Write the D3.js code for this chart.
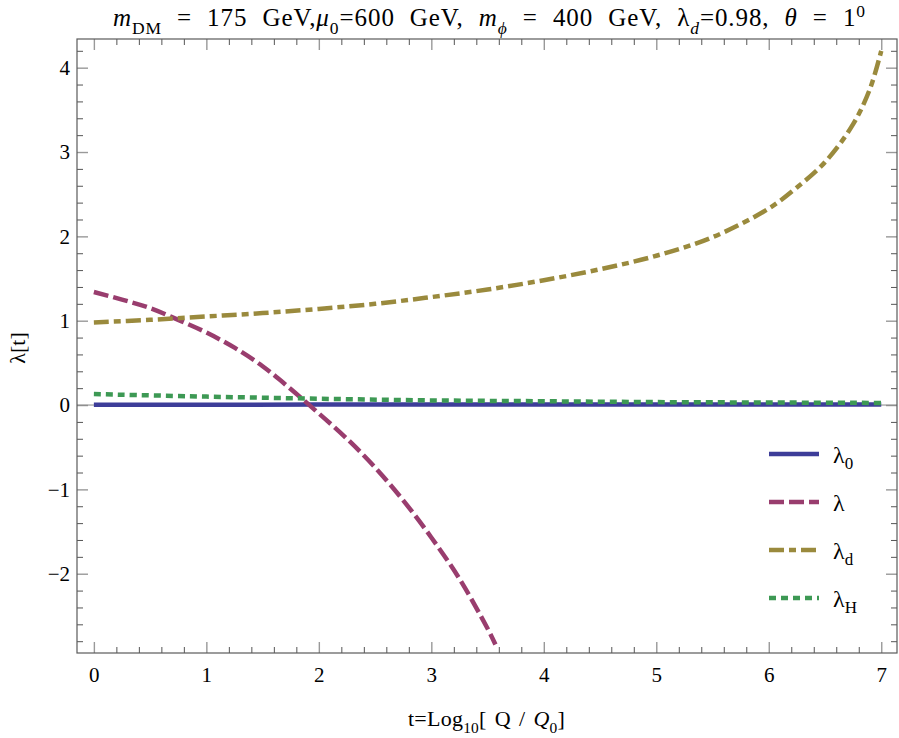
<!DOCTYPE html>
<html>
<head>
<meta charset="utf-8">
<script src="https://cdn.jsdelivr.net/npm/d3@7"></script>
<style>
  body { margin: 0; background: #fff; }
</style>
</head>
<body>
<svg width="899" height="738"></svg>
<script>
// running couplings vs t = log10(Q/Q0)

var tLam0 = [0, 1, 2, 3, 4, 5, 6, 7];
var lam0  = [0.004, 0.004, 0.005, 0.005, 0.005, 0.005, 0.005, 0.005];

var tLam = [0, 0.25, 0.5, 0.75, 1, 1.25, 1.5, 1.75, 2, 2.25, 2.5, 2.75, 3, 3.25, 3.5, 3.57];
var lam  = [1.34, 1.25, 1.15, 1.01, 0.86, 0.68, 0.46, 0.19, -0.1, -0.4, -0.74, -1.13, -1.57, -2.06, -2.65, -2.84];

var tLamD = [0, 0.5, 1, 1.5, 2, 2.5, 3, 3.5, 4, 4.5, 5, 5.5, 6, 6.25, 6.5, 6.75, 6.9, 7];
var lamD  = [0.98, 1.01, 1.05, 1.09, 1.14, 1.2, 1.28, 1.37, 1.48, 1.61, 1.77, 1.99, 2.33, 2.58, 2.88, 3.33, 3.75, 4.2];

var tLamH = [0, 1, 2, 3, 4, 5, 6, 7];
var lamH  = [0.13, 0.1, 0.075, 0.055, 0.045, 0.035, 0.03, 0.025];

var xMajor = [0, 1, 2, 3, 4, 5, 6, 7];
var yMajor = [-2, -1, 0, 1, 2, 3, 4];

var legendSubs = ["0", "", "d", "H"];

var serif = "'Liberation Serif', 'Times New Roman', 'DejaVu Serif', serif";

var svg = d3.select("svg");
// note: "top" is taken by window.top, so prefix everything
var pLeft = 77, pRight = 897, pTop = 39, pBottom = 653;

var x = d3.scaleLinear().domain([-0.15, 7.14]).range([pLeft, pRight]);
var y = d3.scaleLinear().domain([-2.94, 4.34]).range([pBottom, pTop]);

// minor ticks every 0.2
var xMinor = d3.range(0, 7.1, 0.2).map(function(v) { return Math.round(v * 10) / 10; })
    .filter(function(v) { return xMajor.indexOf(v) < 0; });
var yMinor = d3.range(-2.8, 4.3, 0.2).map(function(v) { return Math.round(v * 10) / 10; })
    .filter(function(v) { return yMajor.indexOf(v) < 0; });

function tickAxis(axisFn, scale, values, size, pos, labels) {
  var ax = axisFn(scale).tickValues(values).tickSizeInner(-size).tickSizeOuter(0)
      .tickPadding(labels ? 14 : 0);
  if (!labels) ax.tickFormat("");
  else ax.tickFormat(function(d) { return d < 0 ? "\u2212" + (-d) : d; });
  var g = svg.append("g").attr("transform", pos).call(ax);
  g.select(".domain").remove();
  return g;
}

function styleTicks(g, color, width) {
  g.selectAll(".tick line").attr("stroke", color).attr("stroke-width", width);
  g.selectAll("text").style("font-size", "21px").attr("fill", "#000");
}

// bottom / top
styleTicks(tickAxis(d3.axisBottom, x, xMinor, 6, "translate(0," + pBottom + ")", false), "#555", 1);
styleTicks(tickAxis(d3.axisBottom, x, xMajor, 11, "translate(0," + pBottom + ")", true), "#999", 1.4);
styleTicks(tickAxis(d3.axisTop, x, xMinor, 6, "translate(0," + pTop + ")", false), "#555", 1);
styleTicks(tickAxis(d3.axisTop, x, xMajor, 11, "translate(0," + pTop + ")", false), "#999", 1.4);

// left / right
styleTicks(tickAxis(d3.axisLeft, y, yMinor, 6, "translate(" + pLeft + ",0)", false), "#555", 1);
var gl = tickAxis(d3.axisLeft, y, yMajor, 11, "translate(" + pLeft + ",0)", true);
styleTicks(gl, "#999", 1.4);
gl.selectAll("text").attr("x", -7);
styleTicks(tickAxis(d3.axisRight, y, yMinor, 6, "translate(" + pRight + ",0)", false), "#555", 1);
styleTicks(tickAxis(d3.axisRight, y, yMajor, 11, "translate(" + pRight + ",0)", false), "#999", 1.4);

// zero axis line
svg.append("line")
    .attr("x1", pLeft).attr("x2", pRight)
    .attr("y1", y(0)).attr("y2", y(0))
    .attr("stroke", "#888").attr("stroke-width", 1);

// frame
svg.append("rect")
    .attr("x", pLeft).attr("y", pTop)
    .attr("width", pRight - pLeft).attr("height", pBottom - pTop)
    .attr("fill", "none").attr("stroke", "#5a5a5a").attr("stroke-width", 1.2);

svg.append("clipPath").attr("id", "plotclip")
  .append("rect").attr("x", pLeft).attr("y", pTop)
    .attr("width", pRight - pLeft).attr("height", pBottom - pTop);

var series = [
  { ts: tLam0, vs: lam0, color: "#3d3d99", dash: null },
  { ts: tLam,  vs: lam,  color: "#993d6e", dash: "15,5" },
  { ts: tLamD, vs: lamD, color: "#9a8a3d", dash: "15,5,7,5" },
  { ts: tLamH, vs: lamH, color: "#3d9954", dash: "7,5" }
];

var line = d3.line()
    .x(function(d) { return x(d[0]); })
    .y(function(d) { return y(d[1]); })
    .curve(d3.curveCatmullRom.alpha(0.5));

var plot = svg.append("g").attr("clip-path", "url(#plotclip)");
series.forEach(function(s) {
  plot.append("path")
      .datum(d3.zip(s.ts, s.vs))
      .attr("d", line)
      .attr("fill", "none")
      .attr("stroke", s.color)
      .attr("stroke-width", 4.5)
      .attr("stroke-dasharray", s.dash);
});

// legend
var legend = svg.append("g");
series.forEach(function(s, i) {
  var ly = 454 + i * 48;
  legend.append("line")
      .attr("x1", 769).attr("x2", 819)
      .attr("y1", ly).attr("y2", ly)
      .attr("stroke", s.color).attr("stroke-width", 4.5)
      .attr("stroke-dasharray", s.dash);
  var t = legend.append("text").attr("x", 833).attr("y", ly + 9).style("font-size", "24px");
  t.append("tspan").text("\u03BB");
  if (legendSubs[i]) t.append("tspan").attr("dy", 6).style("font-size", "17px").text(legendSubs[i]);
});

// rich text helper: parts = [text, style] where style: i (italic), b (sub), p (sup)
function rich(sel, parts, size) {
  var shift = 0;
  sel.style("font-family", serif);
  parts.forEach(function(p) {
    var want = 0, fs = size;
    if (p[1].indexOf("b") >= 0) { want = size * 0.3; fs = size * 0.7; }
    if (p[1].indexOf("p") >= 0) { want = -size * 0.38; fs = size * 0.7; }
    var ts = sel.append("tspan").attr("dy", want - shift).style("font-size", fs + "px").text(p[0]);
    if (p[1].indexOf("i") >= 0) ts.style("font-style", "italic");
    shift = want;
  });
}

// stretch a text to a target width, mostly through the spaces
function stretch(sel, width) {
  var w = sel.node().getComputedTextLength();
  var txt = sel.text();
  var nSp = txt.split(" ").length - 1;
  var extra = width - w;
  if (extra <= 0) return;
  sel.style("letter-spacing", (extra * 0.35 / txt.length) + "px");
  sel.style("word-spacing", (extra * 0.65 / Math.max(nSp, 1)) + "px");
}

var title = svg.append("text").attr("x", 113).attr("y", 26);
rich(title, [
  ["m", "i"], ["DM", "b"], [" = 175 GeV,", ""], ["\u03BC", "i"], ["0", "b"],
  ["=600 GeV, ", ""], ["m", "i"], ["\u03D5", "ib"], [" = 400 GeV, ", ""],
  ["\u03BB", ""], ["d", "ib"], ["=0.98, ", ""], ["\u03B8", "i"], [" = 1", ""], ["0", "p"]
], 25);
stretch(title, 753);

var xlab = svg.append("text").attr("x", 408).attr("y", 726);
rich(xlab, [
  ["t=Log", ""], ["10", "b"], ["[ Q / ", ""], ["Q", "i"], ["0", "b"], ["]", ""]
], 22);
stretch(xlab, 157);

svg.append("text")
    .attr("transform", "translate(25,348) rotate(-90)")
    .attr("text-anchor", "middle")
    .style("font-size", "22px")
    .text("\u03BB[t]");

svg.selectAll("text").style("font-family", serif);
</script>
</body>
</html>
